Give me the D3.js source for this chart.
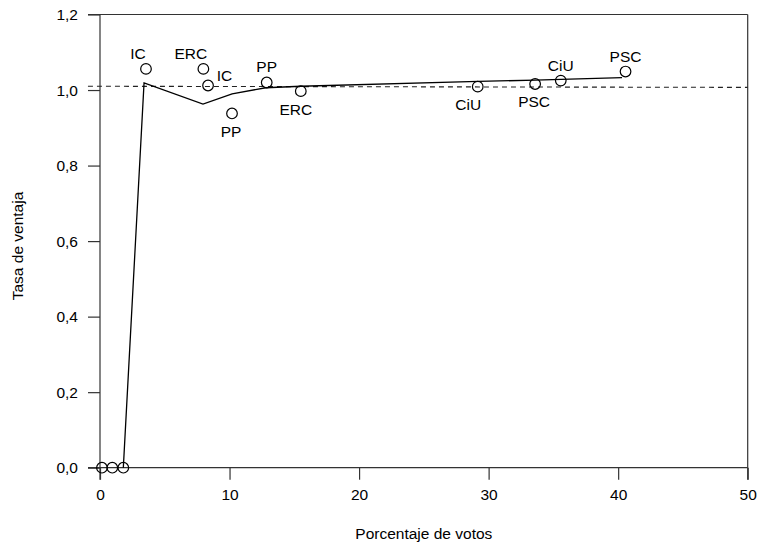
<!DOCTYPE html>
<html><head><meta charset="utf-8">
<script src="https://cdn.jsdelivr.net/npm/d3@7"></script>
<style>
body{margin:0;background:#fff;}
text{font-family:"Liberation Sans",Arial,Helvetica,sans-serif;fill:#000;}
</style></head>
<body>
<svg id="chart" width="761" height="544"></svg>
<script>
// Data
const partyLabels = ["", "", "", "IC", "ERC", "IC", "PP", "PP", "ERC", "CiU", "PSC", "CiU", "PSC"];
const votePct     = [0.15, 0.95, 1.8, 3.55, 7.98, 8.34, 10.19, 12.87, 15.5, 29.16, 33.59, 35.57, 40.57];
const advRate     = [0, 0, 0, 1.056, 1.056, 1.012, 0.938, 1.020, 0.997, 1.009, 1.016, 1.025, 1.049];
const labelPlace  = ["", "", "", "above", "above", "right", "below", "above", "below", "below", "below", "above", "above"];
const labelShift  = [0, 0, 0, -8, -12.5, 0, -1, 0, -5, -9.5, -1, 0, 0];

const fitX = [1.8, 3.4, 7.95, 10.2, 12.8, 15.5, 29.2, 33.6, 35.6, 40.3];
const fitY = [0, 1.019, 0.963, 0.990, 1.006, 1.010, 1.023, 1.026, 1.028, 1.033];

const refX = [-0.93, 50];
const refY = [1.010, 1.007];

const xTicks = [0, 10, 20, 30, 40, 50];
const yTicks = [0, 0.2, 0.4, 0.6, 0.8, 1.0, 1.2];
const xTitle = "Porcentaje de votos";
const yTitle = "Tasa de ventaja";

const svg = d3.select("#chart");
const x = d3.scaleLinear().domain([0, 50]).range([100, 747.7]);
const y = d3.scaleLinear().domain([0, 1.2]).range([467.7, 14.5]);
const fmt = d => d3.format(".1f")(d).replace(".", ",");
const axisColor = "#333";
const tickLen = 12;

// frame
const frame = svg.append("g").attr("stroke", axisColor).attr("stroke-width", 1.2).attr("fill", "none");
frame.append("line").attr("x1", x(0) - tickLen).attr("x2", x(50)).attr("y1", y(1.2)).attr("y2", y(1.2));
frame.append("line").attr("x1", x(0) - tickLen).attr("x2", x(50)).attr("y1", y(0)).attr("y2", y(0));
frame.append("line").attr("x1", x(0)).attr("x2", x(0)).attr("y1", y(1.2)).attr("y2", y(0) + tickLen);
frame.append("line").attr("x1", x(50)).attr("x2", x(50)).attr("y1", y(1.2)).attr("y2", y(0) + tickLen);

// x axis
const xAxis = svg.append("g").attr("transform", `translate(0,${y(0)})`)
  .call(d3.axisBottom(x).tickValues(xTicks).tickSize(tickLen).tickPadding(9).tickFormat(d3.format("d")));
xAxis.select(".domain").remove();
xAxis.selectAll(".tick line").attr("stroke", axisColor).attr("stroke-width", 1.2);
xAxis.selectAll(".tick text").attr("font-size", 15.5).attr("font-family", '"Liberation Sans",Arial,sans-serif').attr("fill", "#000");

// y axis
const yAxis = svg.append("g").attr("transform", `translate(${x(0)},0)`)
  .call(d3.axisLeft(y).tickValues(yTicks).tickSize(tickLen).tickPadding(10).tickFormat(fmt));
yAxis.select(".domain").remove();
yAxis.selectAll(".tick line").attr("stroke", axisColor).attr("stroke-width", 1.2);
yAxis.selectAll(".tick text").attr("font-size", 15.5).attr("font-family", '"Liberation Sans",Arial,sans-serif').attr("fill", "#000");

// titles
svg.append("text").attr("x", (x(0) + x(50)) / 2).attr("y", 539).attr("text-anchor", "middle")
  .attr("font-size", 15.5).text(xTitle);
svg.append("text").attr("transform", `translate(23,246) rotate(-90)`).attr("text-anchor", "middle")
  .attr("font-size", 15.5).text(yTitle);

// reference dashed line
const refData = refX.map((d, i) => [d, refY[i]]);
svg.append("path").datum(refData)
  .attr("d", d3.line().x(d => x(d[0])).y(d => y(d[1])))
  .attr("fill", "none").attr("stroke", "#222").attr("stroke-width", 1.1).attr("stroke-dasharray", "5,4");

// fitted line
const fitData = fitX.map((d, i) => [d, fitY[i]]);
svg.append("path").datum(fitData)
  .attr("d", d3.line().x(d => x(d[0])).y(d => y(d[1])))
  .attr("fill", "none").attr("stroke", "#000").attr("stroke-width", 1.3);

// points
const pts = votePct.map((d, i) => ({x: d, y: advRate[i], label: partyLabels[i], place: labelPlace[i], shift: labelShift[i]}));
svg.append("g").selectAll("circle").data(pts).join("circle")
  .attr("cx", d => x(d.x)).attr("cy", d => y(d.y)).attr("r", 5.3)
  .attr("fill", "none").attr("stroke", "#000").attr("stroke-width", 1.2);

svg.append("g").selectAll("text").data(pts.filter(d => d.label)).join("text")
  .attr("font-size", 15.5)
  .attr("text-anchor", d => d.place === "right" ? "start" : "middle")
  .attr("x", d => x(d.x) + (d.place === "right" ? 8.7 : d.shift))
  .attr("y", d => y(d.y) + (d.place === "above" ? -10 : d.place === "below" ? 23.5 : -4.3))
  .text(d => d.label);
</script>
</body></html>
